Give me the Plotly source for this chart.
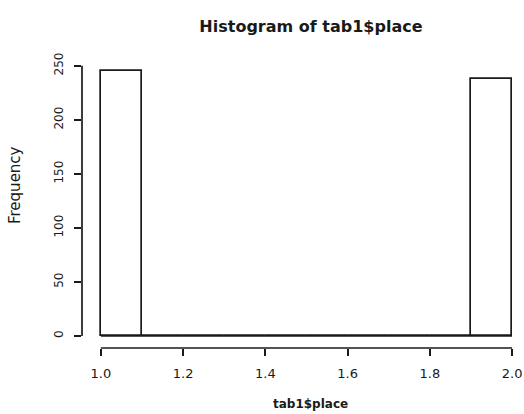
import plotly.graph_objects as go

# Histogram of tab1$place: bin breaks and counts per bin
breaks = [1.0, 1.1, 1.2, 1.3, 1.4, 1.5, 1.6, 1.7, 1.8, 1.9, 2.0]
counts = [245, 0, 0, 0, 0, 0, 0, 0, 0, 238]

x_ticks = [1.0, 1.2, 1.4, 1.6, 1.8, 2.0]
x_tick_labels = ["1.0", "1.2", "1.4", "1.6", "1.8", "2.0"]
y_ticks = [0, 50, 100, 150, 200, 250]
y_tick_labels = ["0", "50", "100", "150", "200", "250"]

mids = [(a + b) / 2 for a, b in zip(breaks[:-1], breaks[1:])]
widths = [b - a for a, b in zip(breaks[:-1], breaks[1:])]

INK = "#1a1a1a"
FONT = "DejaVu Sans, Verdana, sans-serif"

fig = go.Figure()

# histogram cells, open white rectangles with dark outline
fig.add_trace(go.Bar(
    x=mids, y=counts, width=widths,
    marker=dict(color="white", line=dict(color=INK, width=1.7)),
    hoverinfo="skip", showlegend=False,
))

# empty cells collapse to a line along zero
fig.add_trace(go.Scatter(
    x=[breaks[0], breaks[-1]], y=[0, 0], mode="lines",
    line=dict(color=INK, width=1.7), hoverinfo="skip", showlegend=False,
))

# axis lines spanning only from the first to the last tick
fig.add_shape(type="line", xref="x", yref="y domain",
              x0=x_ticks[0], x1=x_ticks[-1], y0=0, y1=0,
              line=dict(color=INK, width=1.7))
fig.add_shape(type="line", xref="x domain", yref="y",
              x0=0, x1=0, y0=y_ticks[0], y1=y_ticks[-1],
              line=dict(color=INK, width=1.7))

fig.update_layout(
    width=524, height=414,
    margin=dict(l=82, r=0, t=55, b=66),
    paper_bgcolor="white", plot_bgcolor="white",
    bargap=0,
    font=dict(family=FONT, color=INK),
    title=dict(
        text="<b>Histogram of tab1$place</b>",
        x=0.518, xref="paper", xanchor="center",
        y=1 - 26 / 414, yanchor="middle",
        font=dict(size=16, family=FONT, color=INK),
    ),
    xaxis=dict(
        range=[0.954, 2.029], showgrid=False, zeroline=False, showline=False,
        tickmode="array", tickvals=x_ticks, ticktext=x_tick_labels,
        ticks="outside", ticklen=7, tickwidth=1.7, tickcolor=INK,
        ticklabelstandoff=6,
        tickfont=dict(size=13, family=FONT, color=INK),
        fixedrange=True,
    ),
    yaxis=dict(
        range=[-11.1, 260], showgrid=False, zeroline=False, showline=False,
        tickmode="array", tickvals=y_ticks, ticktext=y_tick_labels,
        ticks="outside", ticklen=7, tickwidth=1.7, tickcolor=INK,
        tickangle=-90, ticklabelstandoff=6,
        tickfont=dict(size=12, family=FONT, color=INK),
        fixedrange=True,
    ),
    annotations=[
        dict(text="<b>tab1$place</b>", xref="paper", yref="paper",
             x=(310 - 82) / 442, y=-(404 - 348) / 293, showarrow=False,
             xanchor="center", yanchor="middle",
             font=dict(size=12, family=FONT, color=INK)),
        dict(text="Frequency", xref="paper", yref="paper",
             x=-(82 - 15) / 442, y=(348 - 185) / 293, showarrow=False,
             textangle=-90, xanchor="center", yanchor="middle",
             font=dict(size=15, family=FONT, color=INK)),
    ],
)

fig.write_html("out.html")
